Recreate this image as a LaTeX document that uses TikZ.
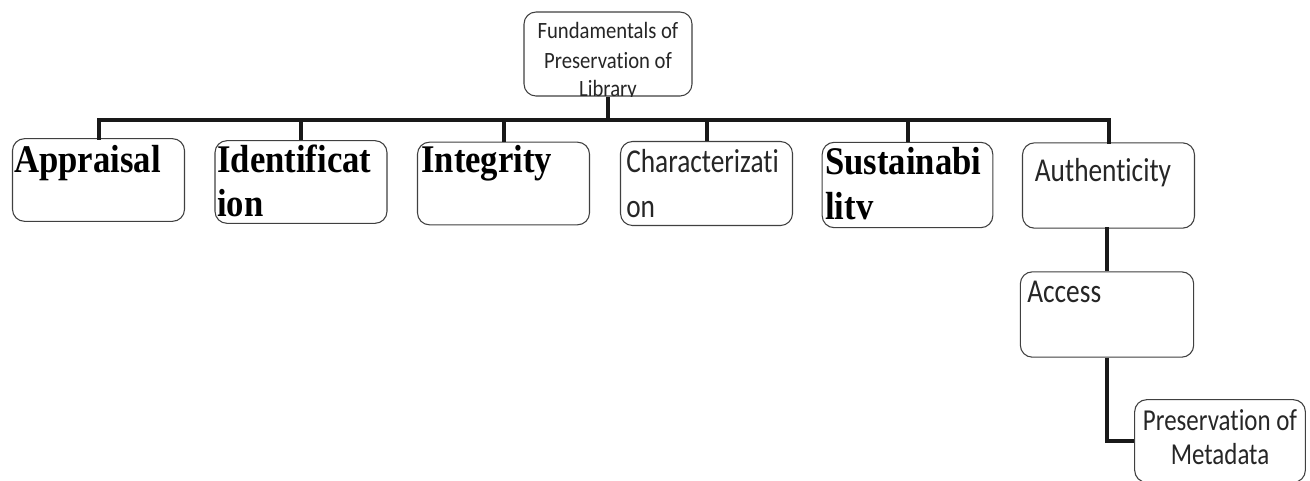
\documentclass[tikz,border=0pt]{standalone}
\usepackage{fontspec}
\usepackage{graphicx}
\setmainfont{Liberation Serif}[Ligatures=NoCommon]
\newfontfamily\calfont{Carlito}[Ligatures=NoCommon]
\newcommand{\tallB}[1]{\scalebox{1}[1.13]{#1}}
\newcommand{\tallS}[1]{\scalebox{1}[1.22]{#1}}
\begin{document}
\begin{tikzpicture}[x=0.75pt,y=-0.75pt,
  box/.style={draw=black!75,line width=0.8pt,rounded corners=9pt,inner sep=0pt,fill=white},
  conn/.style={line width=3pt,draw=black!90},
  bigtxt/.style={inner sep=0pt,anchor=base west,font=\fontsize{26}{30}\selectfont\bfseries},
  sanstxt/.style={inner sep=0pt,text=black!85,font=\fontsize{20.5}{24}\selectfont\calfont},
  roottxt/.style={inner sep=0pt,anchor=base,text=black!85,font=\fontsize{15.5}{21}\selectfont\calfont}]
\useasboundingbox (0,0) rectangle (1310,480);
% boxes
\node[box,minimum width=126pt,minimum height=63pt] (root) at (608,54) {};
\node[box,minimum width=129pt,minimum height=62pt] (appr) at (98.5,180) {};
\node[box,minimum width=129pt,minimum height=62pt] (iden) at (301,182) {};
\node[box,minimum width=129pt,minimum height=62pt] (integ) at (503.5,183.5) {};
\node[box,minimum width=129pt,minimum height=63pt] (char) at (706.5,183.5) {};
\node[box,minimum width=128pt,minimum height=64pt] (sust) at (907.5,185) {};
\node[box,minimum width=129pt,minimum height=64pt] (auth) at (1108.5,185.5) {};
\node[box,minimum width=130pt,minimum height=64pt] (access) at (1107,314.5) {};
\node[box,minimum width=128pt,minimum height=62pt] (pres) at (1220,441) {};
% connectors
\coordinate (bus) at (608,120);
\draw[conn] (root.south) -- (bus);
\draw[conn,line cap=rect] (appr.north) |- (bus) -| (auth.north);
\draw[conn] (iden.north) -- (iden.north |- bus);
\draw[conn] (integ.north) -- (integ.north |- bus);
\draw[conn] (char.north) -- (char.north |- bus);
\draw[conn] (sust.north) -- (sust.north |- bus);
\draw[conn] (auth.south) -- (auth.south -| access.north) -- (access.north);
\draw[conn] (access.south) |- (pres.west);
% root text (clipped to the box)
\begin{scope}
\clip[rounded corners=9pt] (root.south west) rectangle (root.north east);
\node[roottxt] (roottxt1) at (608,38) {\tallB{Fundamentals of}};
\node[roottxt] (roottxt2) at (608,68) {\tallB{Preservation of}};
\node[roottxt] (roottxt3) at (608,96) {\tallB{Library}};
\end{scope}
% texts
\node[bigtxt] (t1) at (14,172) {\tallB{Appraisal}};
\node[bigtxt] (t2a) at (217,172) {\tallB{Identificat}};
\node[bigtxt] (t2b) at (217,216) {\tallB{ion}};
\node[bigtxt] (t3) at (421,172) {\tallB{Integrity}};
\node[sanstxt,anchor=base west] (t4a) at (626,172) {\tallS{Characterizati}};
\node[sanstxt,anchor=base west] (t4b) at (626,217) {\tallS{on}};
\node[bigtxt] (t5a) at (825,174) {\tallB{Sustainabi}};
\node[bigtxt] (t5b) at (825,219) {\tallB{litv}};
\node[sanstxt,anchor=base] (t6) at (1103,181) {\tallS{Authenticity}};
\node[sanstxt,anchor=base west] (t7) at (1027,302) {\tallS{Access}};
\node[sanstxt,anchor=base,font=\fontsize{18.7}{24}\selectfont\calfont] (t8a) at (1220,430) {\tallS{Preservation of}};
\node[sanstxt,anchor=base,font=\fontsize{18.7}{24}\selectfont\calfont] (t8b) at (1220,464) {\tallS{Metadata}};
\end{tikzpicture}
\end{document}
